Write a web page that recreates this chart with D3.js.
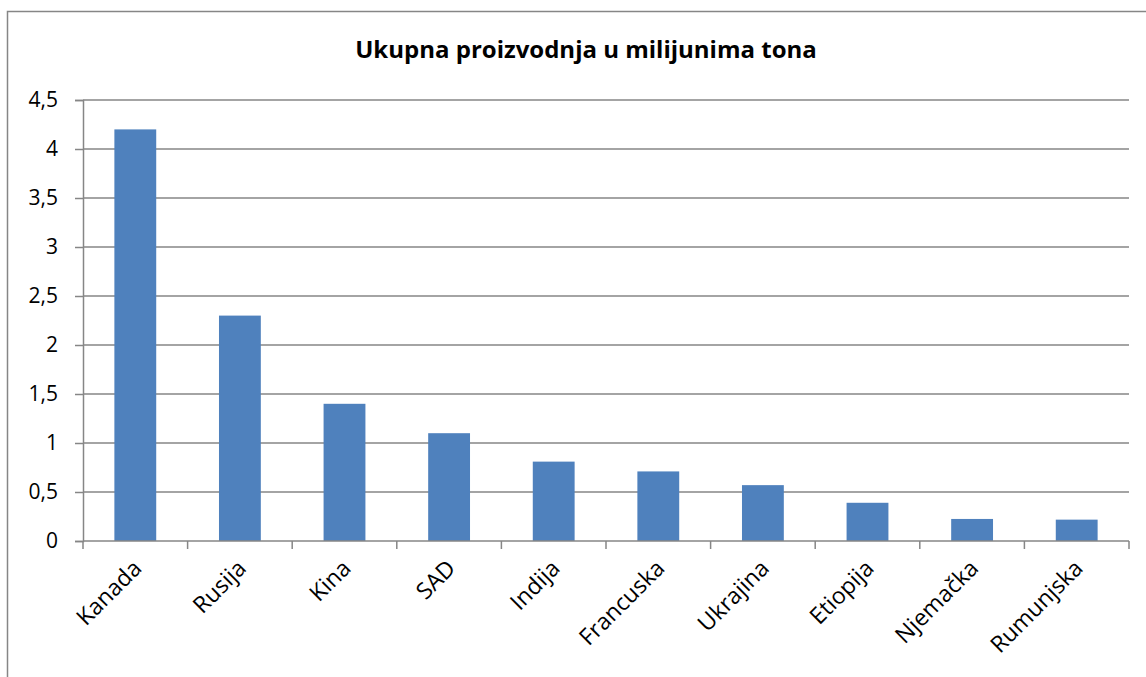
<!DOCTYPE html>
<html><head><meta charset="utf-8">
<script src="https://cdn.jsdelivr.net/npm/d3@7"></script>
<style>body{margin:0;background:#fff}svg{display:block}</style>
</head><body>
<script>
const categories = ["Kanada","Rusija","Kina","SAD","Indija","Francuska","Ukrajina","Etiopija","Njemačka","Rumunjska"];
const values = [4.2, 2.3, 1.4, 1.1, 0.81, 0.71, 0.57, 0.39, 0.225, 0.218];
const yTicks = [0, 0.5, 1, 1.5, 2, 2.5, 3, 3.5, 4, 4.5];
const title = "Ukupna proizvodnja u milijunima tona";

(function () {
const W = 1146, H = 677;
const FONT = "'Open Sans', 'Liberation Sans', sans-serif";
const svg = d3.select("body").append("svg").attr("width", W).attr("height", H);

svg.append("rect").attr("x", 7.5).attr("y", 11.5).attr("width", W + 20).attr("height", H + 20)
  .attr("fill", "#fff").attr("stroke", "#868686").attr("stroke-width", 1.5);

const pL = 83, pR = 1129, pT = 100, pB = 541;
const x = d3.scaleBand().domain(categories).range([pL, pR]).padding(0);
const y = d3.scaleLinear().domain([0, 4.5]).range([pB, pT]);

const fmt = v => String(v).replace(".", ",");

svg.append("g").selectAll("line").data(yTicks.filter(d => d > 0)).join("line")
  .attr("x1", pL).attr("x2", pR)
  .attr("y1", d => y(d)).attr("y2", d => y(d))
  .attr("stroke", "#868686").attr("stroke-width", 1.5);

const ya = svg.append("g").attr("transform", `translate(${pL},0)`)
  .call(d3.axisLeft(y).tickValues(yTicks).tickFormat(fmt).tickSize(8).tickPadding(17));
ya.select(".domain").attr("stroke", "#868686").attr("stroke-width", 1.5);
ya.selectAll(".tick line").attr("stroke", "#868686").attr("stroke-width", 1.5);
ya.selectAll("text").attr("font-family", FONT).attr("font-size", 21).attr("fill", "#000");

const bw = x.bandwidth() * 0.4;
svg.append("g").selectAll("rect").data(values).join("rect")
  .attr("x", (d, i) => x(categories[i]) + (x.bandwidth() - bw) / 2)
  .attr("width", bw)
  .attr("y", d => y(d))
  .attr("height", d => y(0) - y(d))
  .attr("fill", "#4F81BD");

const xa = svg.append("g").attr("transform", `translate(0,${pB})`);
xa.append("line").attr("x1", pL).attr("x2", pR).attr("y1", 0).attr("y2", 0)
  .attr("stroke", "#868686").attr("stroke-width", 1.5);
const bounds = categories.map(c => x(c)).concat([pR]);
xa.selectAll("line.tk").data(bounds).join("line").attr("class", "tk")
  .attr("x1", d => d).attr("x2", d => d).attr("y1", 0).attr("y2", 8)
  .attr("stroke", "#868686").attr("stroke-width", 1.5);
xa.selectAll("text").data(categories).join("text")
  .attr("transform", c => `translate(${x(c) + x.bandwidth() / 2 + 2},${23}) rotate(-45)`)
  .attr("text-anchor", "end")
  .attr("dy", "0.35em")
  .attr("font-family", FONT).attr("font-size", 23).attr("fill", "#000")
  .text(c => c);

svg.append("text").attr("x", 586).attr("y", 58).attr("text-anchor", "middle")
  .attr("font-family", FONT).attr("font-weight", "bold").attr("font-size", 24)
  .attr("fill", "#000").text(title);
})();
</script>
</body></html>
